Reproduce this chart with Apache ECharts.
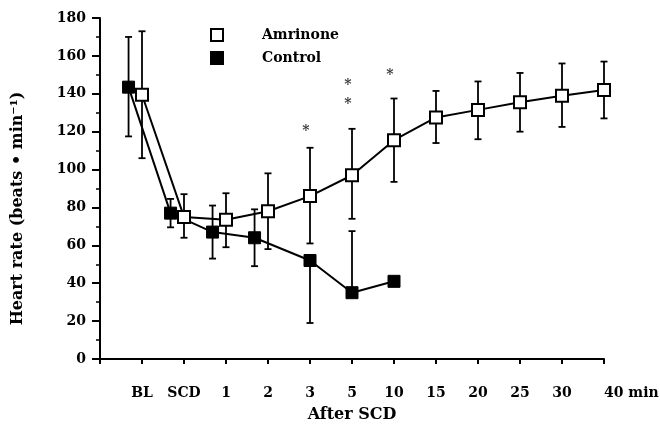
<!DOCTYPE html>
<html>
<head>
<meta charset="utf-8">
<script src="https://cdn.jsdelivr.net/npm/echarts@6/dist/echarts.min.js"></script>
<style>html,body{margin:0;padding:0;background:#fff}#c{width:660px;height:426px}</style>
</head>
<body>
<div id="c"></div>
<script>
// ---- data ----
const categories = ['BL', 'SCD', '1', '2', '3', '5', '10', '15', '20', '25', '30', '40 min'];
const amrinoneMean = [139.5, 75, 73.5, 78, 86, 97, 115.5, 127.5, 131.5, 135.5, 139, 142];
const amrinoneUp   = [33.5, 12, 14, 20, 25.5, 24.5, 22, 14, 15, 15.5, 17, 15];
const amrinoneDown = [33.5, 11, 14.5, 20, 25, 23, 22, 13.5, 15.5, 15.5, 16.5, 15];
const controlMean  = [143.5, 77, 67, 64, 52, 35, 41];
const controlUp    = [26.5, 7.5, 14, 15, 0, 32.5, 0];
const controlDown  = [26, 7.5, 14, 15, 33, 0, 0];
const sigCats   = ['3', '5', '5', '10'];
const sigValues = [122.5, 146.5, 136.5, 152];
const yTicks = [0, 20, 40, 60, 80, 100, 120, 140, 160, 180];

// ---- layout helpers ----
const FONT = 'DejaVu Serif';
const CONTROL_SHIFT = -0.32; // control points drawn left of tick for early times
const ctrlX = i => i + (i < 4 ? CONTROL_SHIFT : 0);
const amrData = amrinoneMean.map((v, i) => [i, v]);
const ctrlData = controlMean.map((v, i) => [ctrlX(i), v]);
const amrErr = amrinoneMean.map((v, i) => [i, v, amrinoneUp[i], amrinoneDown[i]]);
const ctrlErr = controlMean.map((v, i) => [ctrlX(i), v, controlUp[i], controlDown[i]]);
const sigData = sigCats.map((c, k) => [categories.indexOf(c) - 0.1, sigValues[k]]);

function errRender(params, api) {
  const x = api.value(0), y = api.value(1), up = api.value(2), dn = api.value(3);
  const hw = 3.5;
  const st = { stroke: '#000', lineWidth: 1.8 };
  const c = api.coord([x, y]);
  const children = [];
  if (up) {
    const t = api.coord([x, y + up]);
    children.push({ type: 'line', shape: { x1: c[0], y1: c[1], x2: t[0], y2: t[1] }, style: st });
    children.push({ type: 'line', shape: { x1: t[0] - hw, y1: t[1], x2: t[0] + hw, y2: t[1] }, style: st });
  }
  if (dn) {
    const b = api.coord([x, y - dn]);
    children.push({ type: 'line', shape: { x1: c[0], y1: c[1], x2: b[0], y2: b[1] }, style: st });
    children.push({ type: 'line', shape: { x1: b[0] - hw, y1: b[1], x2: b[0] + hw, y2: b[1] }, style: st });
  }
  return { type: 'group', children };
}

const chart = echarts.init(document.getElementById('c'));
chart.setOption({
  animation: false,
  backgroundColor: '#fff',
  textStyle: { fontFamily: FONT, color: '#000' },
  grid: { left: 100, right: 56, top: 18, bottom: 67, containLabel: false, outerBoundsMode: 'none' },
  legend: {
    orient: 'vertical', left: 205, top: 23, itemGap: 9,
    icon: 'rect', itemWidth: 12, itemHeight: 12,
    data: ['Amrinone', 'Control'],
    textStyle: { fontFamily: FONT, fontSize: 14, fontWeight: 'bold', color: '#000', padding: [0, 0, 0, 34] }
  },
  xAxis: {
    type: 'value', min: -1, max: 11, interval: 1,
    name: 'After SCD', nameLocation: 'middle', nameGap: 48,
    nameTextStyle: { fontFamily: FONT, fontSize: 16, fontWeight: 'bold', color: '#000' },
    axisLine: { lineStyle: { color: '#000', width: 2 } },
    axisTick: { length: 5, lineStyle: { color: '#000', width: 2 } },
    splitLine: { show: false },
    axisLabel: {
      margin: 27, fontFamily: FONT, fontSize: 14, fontWeight: 'bold', color: '#000',
      alignMaxLabel: 'left',
      formatter: v => (v >= 0 && v < categories.length) ? categories[v] : ''
    }
  },
  yAxis: {
    type: 'value', min: yTicks[0], max: yTicks[yTicks.length - 1], interval: yTicks[1] - yTicks[0],
    name: 'Heart rate (beats • min⁻¹)', nameLocation: 'middle', nameGap: 74, nameRotate: 90,
    nameTextStyle: { fontFamily: FONT, fontSize: 16, fontWeight: 'bold', color: '#000', padding: [0, 0, 0, -40] },
    axisLine: { show: true, onZero: false, lineStyle: { color: '#000', width: 2 } },
    axisTick: { show: true, length: 8, lineStyle: { color: '#000', width: 2 } },
    minorTick: { show: true, splitNumber: 2, length: 4, lineStyle: { color: '#000', width: 1.5 } },
    splitLine: { show: false },
    axisLabel: { margin: 14, fontFamily: FONT, fontSize: 14, fontWeight: 'bold', color: '#000' }
  },
  series: [
    { type: 'custom', name: 'errC', renderItem: errRender, data: ctrlErr, z: 1, silent: true },
    { type: 'custom', name: 'errA', renderItem: errRender, data: amrErr, z: 1, silent: true },
    {
      type: 'line', name: 'Control', data: ctrlData, symbol: 'rect', symbolSize: 12, z: 3,
      lineStyle: { color: '#000', width: 2 },
      itemStyle: { color: '#000', borderColor: '#000', borderWidth: 1 }
    },
    {
      type: 'line', name: 'Amrinone', data: amrData, symbol: 'rect', symbolSize: 12, z: 4,
      lineStyle: { color: '#000', width: 2 },
      itemStyle: { color: '#fff', borderColor: '#000', borderWidth: 2 }
    },
    {
      type: 'scatter', name: 'sig', data: sigData, symbolSize: 1, z: 5, silent: true,
      itemStyle: { color: 'rgba(0,0,0,0)' },
      label: { show: true, formatter: '*', position: 'inside', offset: [0, 4], fontFamily: FONT, fontSize: 14, fontWeight: 'bold', color: '#000' }
    }
  ]
});
</script>
</body>
</html>
